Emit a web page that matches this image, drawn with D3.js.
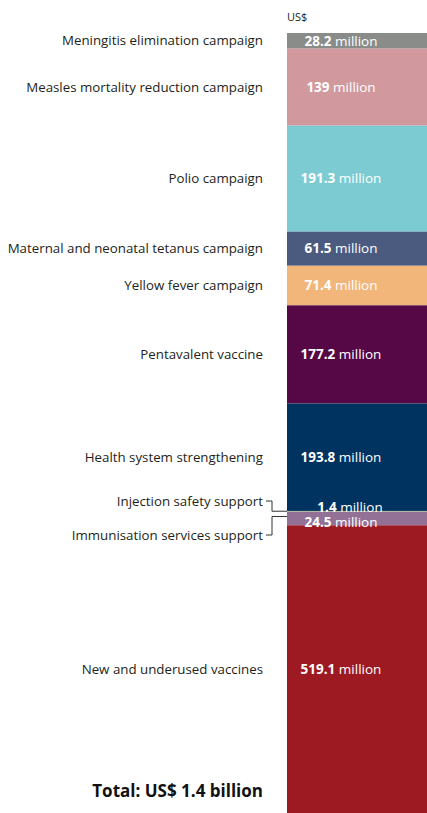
<!DOCTYPE html>
<meta charset="utf-8">
<style>
  body { margin: 0; background: #fff; }
  svg text { font-family: "Open Sans", "Noto Sans", sans-serif; }
  .cat { fill: #231f20; font-size: 13.3px; text-anchor: end; }
  .val { fill: #fff; font-size: 13.5px; text-anchor: middle; }
  .leader { fill: none; stroke: #333; stroke-width: 1px; }
</style>
<svg width="427" height="813"></svg>
<script src="https://d3js.org/d3.v7.min.js"></script>
<script>
  var categories = [
    "Meningitis elimination campaign",
    "Measles mortality reduction campaign",
    "Polio campaign",
    "Maternal and neonatal tetanus campaign",
    "Yellow fever campaign",
    "Pentavalent vaccine",
    "Health system strengthening",
    "Injection safety support",
    "Immunisation services support",
    "New and underused vaccines"
  ];
  var values = [28.2, 139, 191.3, 61.5, 71.4, 177.2, 193.8, 1.4, 24.5, 519.1];
  var colors = ["#8a8c8a", "#d1999d", "#7ccbd2", "#4b5a7f", "#f2b67a",
                "#560846", "#00335f", "#a9c18c", "#937196", "#9e1a23"];
  var unit = "US$";
  var totalLabel = "Total: US$ 1.4 billion";

  var svg = d3.select("svg"),
    width = +svg.attr("width"),
    height = +svg.attr("height");

  var barX = 287, labelX = 263, valueX = 341;

  var total = d3.sum(values);
  var y = d3.scaleLinear().domain([0, total]).range([33, height]);

  var segs = [], acc = 0;
  values.forEach(function(v, i) {
    segs.push({ name: categories[i], value: v, color: colors[i], y0: acc, y1: acc + v, i: i });
    acc += v;
  });

  svg.append("g").selectAll("rect")
    .data(segs)
    .enter().append("rect")
    .attr("x", barX)
    .attr("width", width - barX)
    .attr("y", function(d) { return y(d.y0); })
    .attr("height", function(d) { return y(d.y1) - y(d.y0); })
    .attr("fill", function(d) { return d.color; });

  svg.append("text")
    .attr("x", barX)
    .attr("y", 21)
    .attr("font-size", 11)
    .attr("fill", "#231f20")
    .text(unit);

  // the two thin segments get their labels pulled apart
  function catY(d) {
    if (d.i == 7) return 501;
    if (d.i == 8) return 535;
    return (y(d.y0) + y(d.y1)) / 2;
  }
  function valY(d) {
    if (d.i == 7) return y(d.y0) - 4;
    if (d.i == 8) return y((d.y0 + d.y1) / 2) + 4;
    return (y(d.y0) + y(d.y1)) / 2;
  }

  svg.append("g").selectAll("text")
    .data(segs)
    .enter().append("text")
    .attr("class", "cat")
    .attr("x", labelX)
    .attr("y", catY)
    .attr("dy", "0.35em")
    .text(function(d) { return d.name; });

  var vt = svg.append("g").selectAll("text")
    .data(segs)
    .enter().append("text")
    .attr("class", "val")
    .attr("x", function(d) { return d.i == 7 ? valueX + 9 : valueX; })
    .attr("y", valY)
    .attr("dy", "0.35em");
  vt.append("tspan").attr("font-weight", "bold").text(function(d) { return d.value; });
  vt.append("tspan").text(" million");

  // leader lines for the thin segments
  [7, 8].forEach(function(i) {
    var d = segs[i];
    var ty = i == 7 ? y(d.y1) - 0.5 : y((d.y0 + d.y1) / 2) - 2;
    var ly = catY(d);
    svg.append("path")
      .attr("class", "leader")
      .attr("d", "M" + (labelX + 3) + "," + ly + "H272V" + ty + "H" + barX);
  });

  svg.append("text")
    .attr("x", labelX)
    .attr("y", 797)
    .attr("text-anchor", "end")
    .attr("font-size", 17)
    .attr("font-weight", "bold")
    .attr("fill", "#111")
    .text(totalLabel);
</script>
